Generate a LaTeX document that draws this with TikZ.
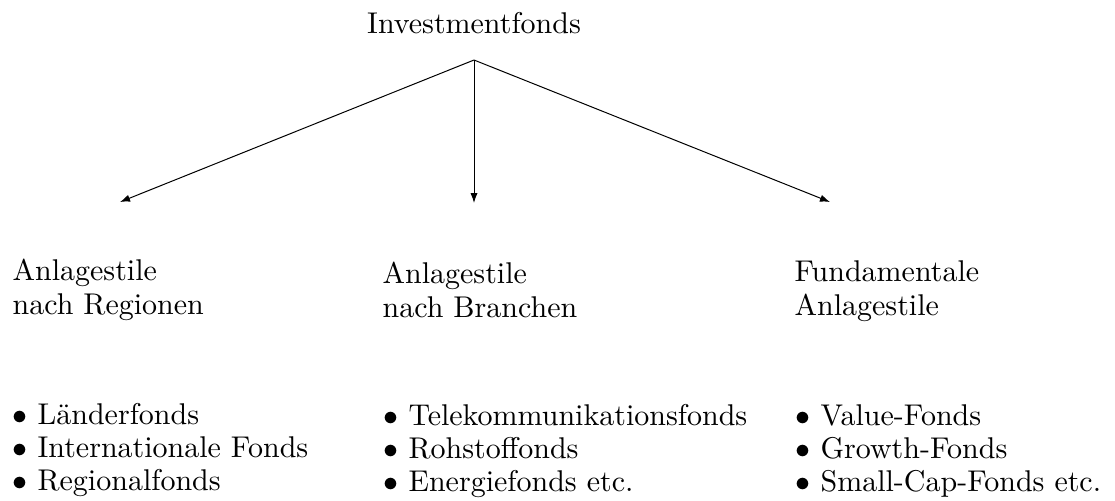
\documentclass[tikz,border=0pt]{standalone}
\usetikzlibrary{arrows.meta}
\begin{document}
\begin{tikzpicture}[x=0.5pt,y=-0.5pt,
  lbl/.style={anchor=base west, inner sep=0pt, align=left,
    font=\fontsize{10}{11.17}\selectfont, scale=1.5, transform shape},
  itemlist/.style={lbl, font=\fontsize{10}{10.85}\selectfont},
  conn/.style={-{Latex[length=5pt,width=3.6pt]}, line width=0.5pt}]
\useasboundingbox (0,0) rectangle (1115,500);
% root
\node[lbl, anchor=base] (root) at (474,33) {Investmentfonds};
\coordinate (apex) at (474,60);
% arrow ends
\coordinate (tipL) at (120,202);
\coordinate (tipM) at (474,203);
\coordinate (tipR) at (830,202);
\draw[conn] (apex) -- (tipL);
\draw[conn] (apex) -- (tipM);
\draw[conn] (apex) -- (tipR);
% headings (base anchor = baseline of last line)
\node[lbl] (regionen) at (12,314) {Anlagestile\\nach Regionen};
\node[lbl] (branchen) at (382,317) {Anlagestile\\nach Branchen};
\node[lbl] (fundamental) at (794,315) {Fundamentale\\Anlagestile};
% lists
\node[itemlist] (listL) at (12,490) {$\bullet$ L\"anderfonds\\$\bullet$ Internationale Fonds\\$\bullet$ Regionalfonds};
\node[itemlist] (listM) at (383,491) {$\bullet$ Telekommunikationsfonds\\$\bullet$ Rohstoffonds\\$\bullet$ Energiefonds etc.};
\node[itemlist] (listR) at (795,491) {$\bullet$ Value-Fonds\\$\bullet$ Growth-Fonds\\$\bullet$ Small-Cap-Fonds etc.};
\end{tikzpicture}
\end{document}
